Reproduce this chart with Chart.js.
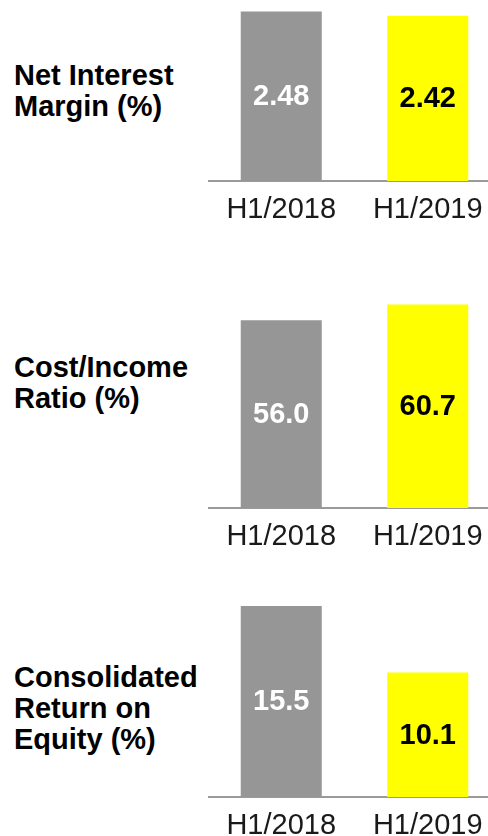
<!DOCTYPE html>
<html>
<head>
<meta charset="utf-8">
<script src="https://cdn.jsdelivr.net/npm/chart.js@4"></script>
<style>
  html, body { margin: 0; padding: 0; background: #fff; overflow: hidden; }
  body { width: 488px; height: 836px; position: relative; }
  .title {
    position: absolute; left: 14px;
    font: bold 29px "Liberation Sans", Arial, sans-serif;
    line-height: 31px; color: #000; white-space: nowrap;
  }
  .box { position: absolute; left: 208px; width: 293px; }
</style>
</head>
<body>
<div class="title" style="top:60px">Net Interest<br>Margin (%)</div>
<div class="title" style="top:352px">Cost/Income<br>Ratio (%)</div>
<div class="title" style="top:662px">Consolidated<br>Return on<br>Equity (%)</div>

<div class="box" style="top:0px;height:221px"><canvas id="nim"></canvas></div>
<div class="box" style="top:290px;height:258px"><canvas id="cir"></canvas></div>
<div class="box" style="top:580px;height:257px"><canvas id="roe"></canvas></div>

<script>
const categories = ["H1/2018", "H1/2019"];
const nimValues = [2.48, 2.42];
const costIncomeValues = [56.0, 60.7];
const roeValues = [15.5, 10.1];

const barColors = ["#969696", "#ffff00"];
const labelColors = ["#ffffff", "#000000"];

// writes each value in the middle of its bar
const valueLabels = {
  id: "valueLabels",
  afterDatasetsDraw(chart, args, opts) {
    const ctx = chart.ctx;
    const data = chart.data.datasets[0].data;
    chart.getDatasetMeta(0).data.forEach((bar, i) => {
      ctx.save();
      ctx.font = 'bold 29px "Liberation Sans", Arial, sans-serif';
      ctx.fillStyle = labelColors[i];
      ctx.textAlign = "center";
      ctx.textBaseline = "middle";
      ctx.fillText(data[i].toFixed(opts.decimals), bar.x, (bar.y + bar.base) / 2 + 1);
      ctx.restore();
    });
  }
};

function makeChart(id, values, max, decimals) {
  new Chart(document.getElementById(id), {
    type: "bar",
    data: {
      labels: categories,
      datasets: [{
        data: values,
        backgroundColor: barColors,
        barPercentage: 0.553,
        categoryPercentage: 1
      }]
    },
    options: {
      responsive: true,
      maintainAspectRatio: false,
      animation: false,
      layout: { padding: 0 },
      plugins: {
        legend: { display: false },
        tooltip: { enabled: false },
        valueLabels: { decimals: decimals }
      },
      scales: {
        x: {
          grid: { display: false, drawTicks: false },
          border: { display: true, color: "#9a9a9a", width: 2 },
          ticks: {
            color: "#1a1a1a",
            padding: 12,
            font: { family: '"Liberation Sans", Arial, sans-serif', size: 29 }
          },
          afterFit: (scale) => { scale.height = 40; }
        },
        y: { display: false, min: 0, max: max }
      }
    },
    plugins: [valueLabels]
  });
}

makeChart("nim", nimValues, 2.65, 2);
makeChart("cir", costIncomeValues, 65, 1);
makeChart("roe", roeValues, 17.6, 1);
</script>
</body>
</html>
